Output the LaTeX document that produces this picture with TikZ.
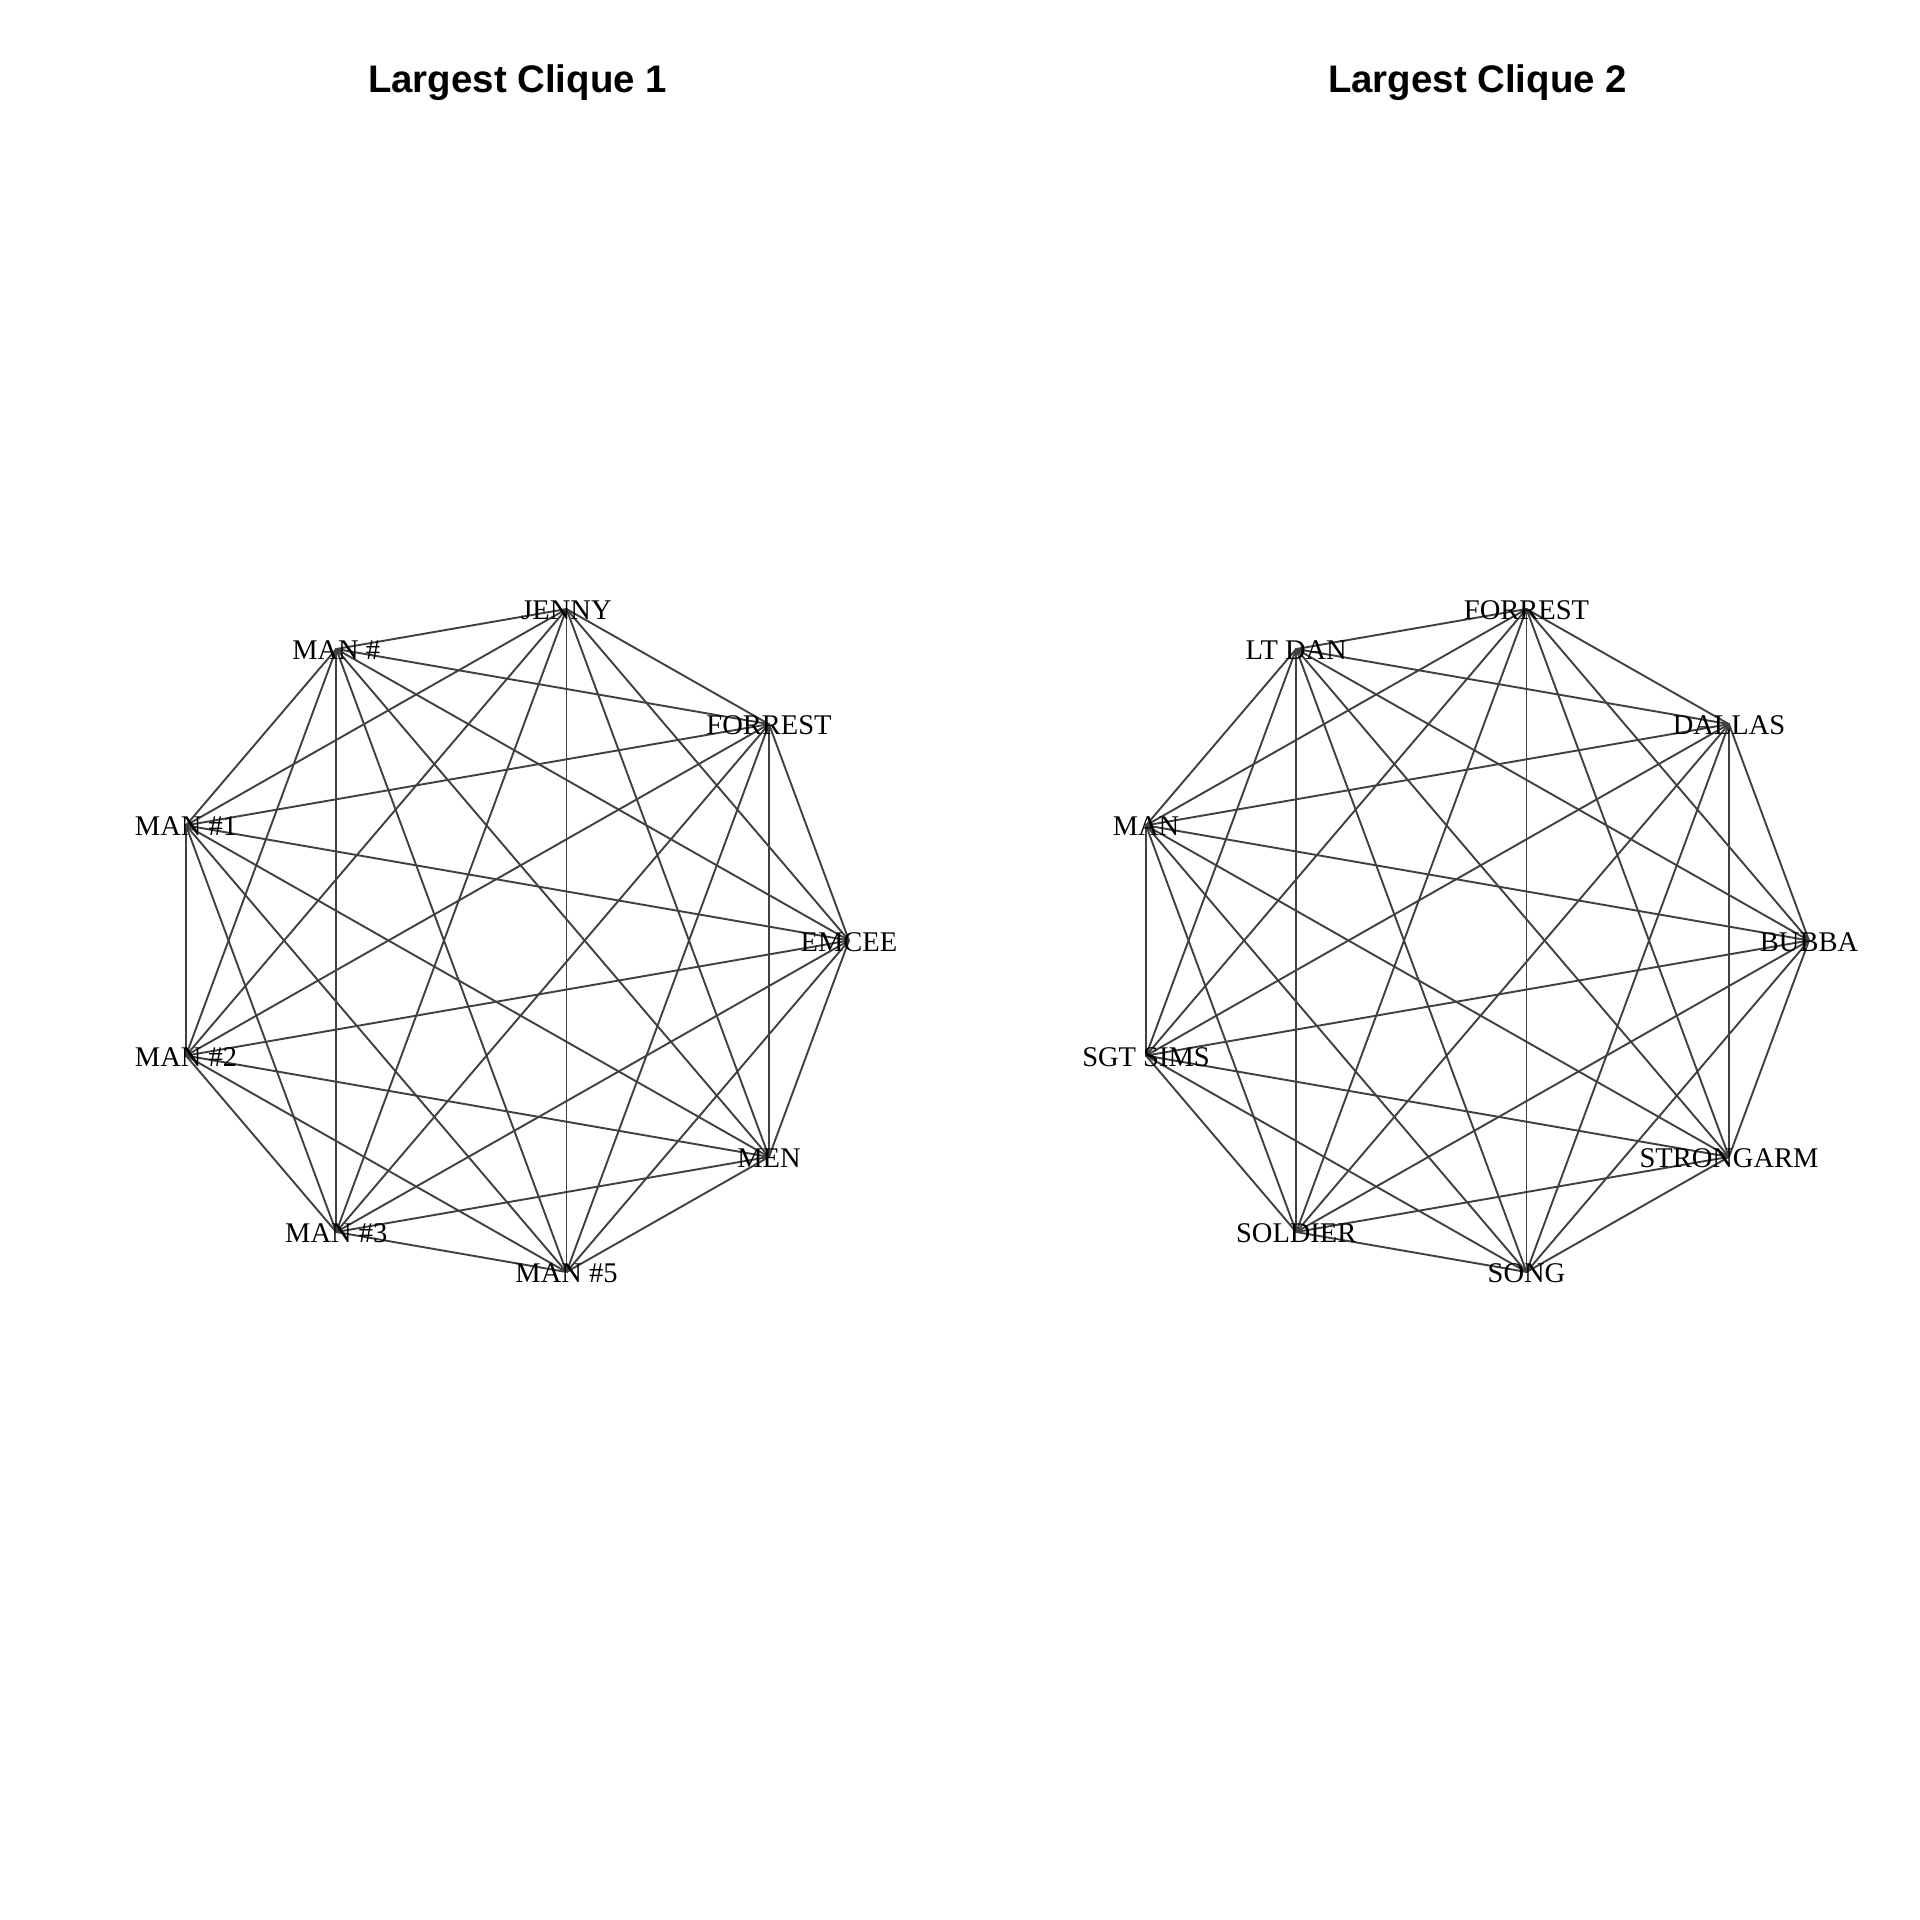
\documentclass[tikz,border=0pt]{standalone}
\usepackage{fontspec}
\setmainfont{Liberation Serif}
\newfontfamily\titlesans{Liberation Sans}
\definecolor{edgegray}{RGB}{64,64,64}
\tikzset{
  edge/.style={draw=edgegray, line width=1.9pt, line cap=round},
  vlabel/.style={inner sep=0pt, text height=19pt, text depth=0pt, font=\fontsize{28.5}{28.5}\selectfont, anchor=center, yshift=-1pt},
  plottitle/.style={anchor=base, inner sep=0pt, font=\titlesans\bfseries\fontsize{38.4}{40}\selectfont}
}
\begin{document}
\begin{tikzpicture}[x=1pt,y=-1pt]
\useasboundingbox (0,0) rectangle (1920,1920);
\fill[white] (0,0) rectangle (1920,1920);
\foreach \i in {0,...,8} {
  \pgfmathsetmacro\xn{(cos(40*\i)+0.939693)/1.939693*2-1}
  \pgfmathsetmacro\yn{sin(40*\i)/0.984808}
  \coordinate (L\i) at ({517.5+331.5*\xn}, {940.5-331.5*\yn});
  \coordinate (R\i) at ({1477.5+331.5*\xn}, {940.5-331.5*\yn});
}
\foreach \i in {0,...,7} {
  \pgfmathtruncatemacro\s{\i+1}
  \foreach \j in {\s,...,8} {
    \draw[edge] (L\i) -- (L\j);
    \draw[edge] (R\i) -- (R\j);
  }
}
\node[vlabel] (lab-L0) at (L0) {EMCEE};
\node[vlabel] (lab-L1) at (L1) {FORREST};
\node[vlabel] (lab-L2) at (L2) {JENNY};
\node[vlabel] (lab-L3) at (L3) {MAN \#};
\node[vlabel] (lab-L4) at (L4) {MAN \#1};
\node[vlabel] (lab-L5) at (L5) {MAN \#2};
\node[vlabel] (lab-L6) at (L6) {MAN \#3};
\node[vlabel] (lab-L7) at (L7) {MAN \#5};
\node[vlabel] (lab-L8) at (L8) {MEN};
\node[vlabel] (lab-R0) at (R0) {BUBBA};
\node[vlabel] (lab-R1) at (R1) {DALLAS};
\node[vlabel] (lab-R2) at (R2) {FORREST};
\node[vlabel] (lab-R3) at (R3) {LT DAN};
\node[vlabel] (lab-R4) at (R4) {MAN};
\node[vlabel] (lab-R5) at (R5) {SGT SIMS};
\node[vlabel] (lab-R6) at (R6) {SOLDIER};
\node[vlabel] (lab-R7) at (R7) {SONG};
\node[vlabel] (lab-R8) at (R8) {STRONGARM};
\node[plottitle] (title1) at (517.5,92.7) {Largest Clique 1};
\node[plottitle] (title2) at (1477.5,92.7) {Largest Clique 2};
\end{tikzpicture}
\end{document}
